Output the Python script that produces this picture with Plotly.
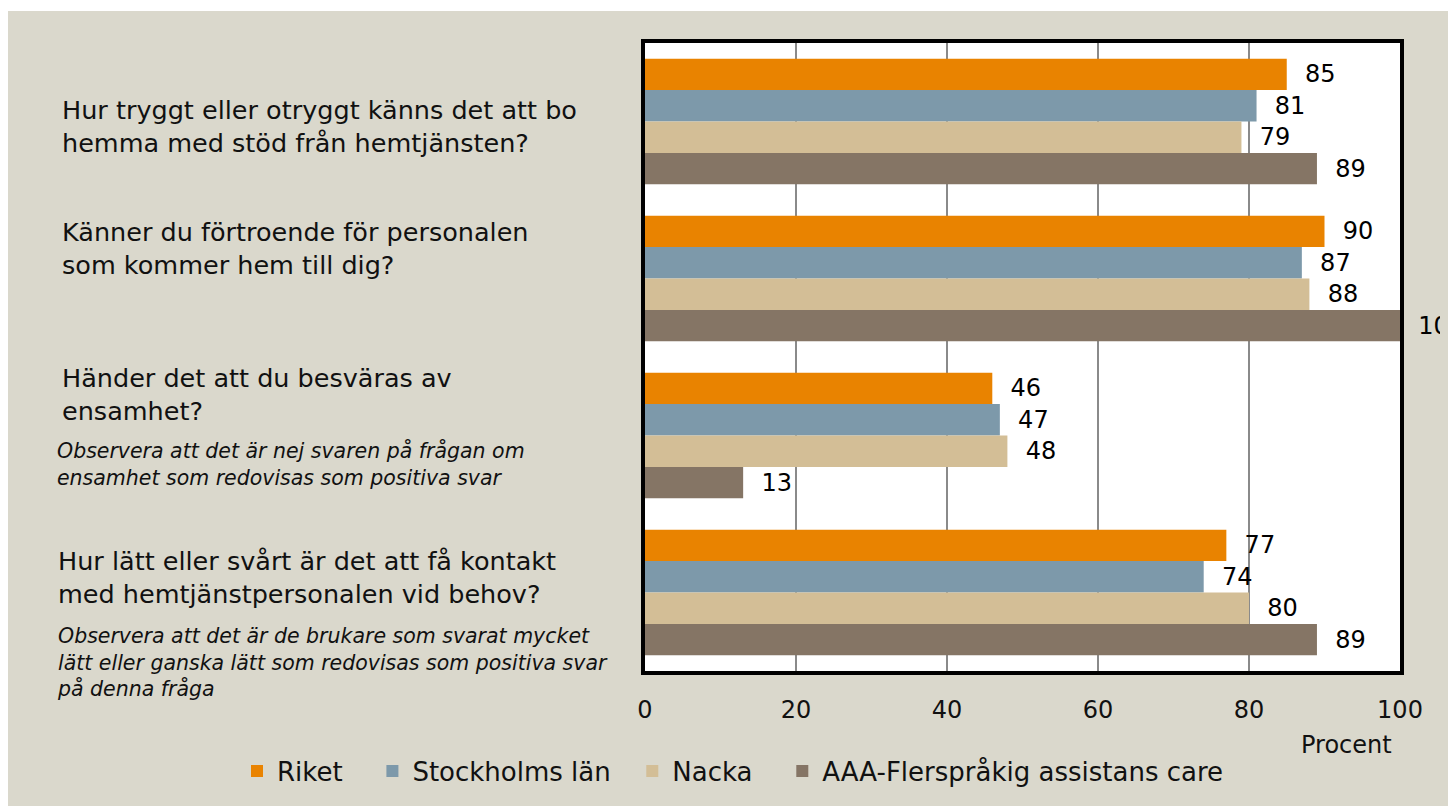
import plotly.graph_objects as go

categories = ["Q1", "Q2", "Q3", "Q4"]
series_names = ["Riket", "Stockholms län", "Nacka", "AAA-Flerspråkig assistans care"]
riket = [85, 90, 46, 77]
stockholm = [81, 87, 47, 74]
nacka = [79, 88, 48, 80]
aaa = [89, 100, 13, 89]
colors = ["#E98300", "#7D99AA", "#D3BE96", "#857565"]

questions = [
    "Hur tryggt eller otryggt känns det att bo<br>hemma med stöd från hemtjänsten?",
    "Känner du förtroende för personalen<br>som kommer hem till dig?",
    "Händer det att du besväras av<br>ensamhet?",
    "Hur lätt eller svårt är det att få kontakt<br>med hemtjänstpersonalen vid behov?",
]
notes = {
    "Q3": "Observera att det är nej svaren på frågan om<br>ensamhet som redovisas som positiva svar",
    "Q4": "Observera att det är de brukare som svarat mycket<br>lätt eller ganska lätt som redovisas som positiva svar<br>på denna fråga",
}
tick_vals = [0, 20, 40, 60, 80, 100]
legend_pad = [3, 2, 3, 0]  # trailing spacing after legend labels

FONT = "DejaVu Sans"
BG = "#DAD8CC"
OFF = 8  # browser body margin
W, H = 1448 - OFF, 806 - OFF
L, T = 645 - OFF, 43 - OFF
PR, PB = 1400 - OFF, 671 - OFF
R, B = W - PR, H - PB
PW, PH = PR - L, PB - T


def px_x(p):
    # screen pixel -> paper
    return (p - OFF - L) / PW


def px_y(p):
    return (PB - (p - OFF)) / PH


fig = go.Figure()
for name, vals, col, pad in zip(series_names, [riket, stockholm, nacka, aaa], colors, legend_pad):
    fig.add_trace(go.Bar(
        y=categories, x=vals, name=name + "\u00a0" * pad, orientation="h",
        marker=dict(color=col, line=dict(width=0)),
        text=vals, texttemplate="\u00a0\u00a0%{x}", textposition="outside",
        textfont=dict(family=FONT, size=24, color="black"),
        cliponaxis=False, constraintext="none",
    ))

# question labels
q_shift = [-5, 30, 41, 15]
q_x = [60, 60, 60, 56]
for cat, q, ys, xx in zip(categories, questions, q_shift, q_x):
    fig.add_annotation(x=px_x(xx), xref="paper", y=cat, yref="y", yshift=ys,
                       text=q, showarrow=False, xanchor="left", yanchor="middle",
                       align="left", font=dict(family=FONT, size=25.5, color="#111"))
note_shift = {"Q3": -28, "Q4": -70}
for cat, t in notes.items():
    fig.add_annotation(x=px_x(55), xref="paper", y=cat, yref="y", yshift=note_shift[cat],
                       text="<i>" + t + "</i>", showarrow=False, xanchor="left",
                       yanchor="middle", align="left",
                       font=dict(family=FONT, size=20.5, color="#111"))

fig.add_annotation(x=px_x(1394), xref="paper", y=px_y(745), yref="paper",
                   text="Procent", showarrow=False, xanchor="right", yanchor="middle",
                   font=dict(family=FONT, size=24, color="#111"))

# thin white strip at top (reference shows slightly more white above)
fig.add_shape(type="rect", xref="paper", yref="paper", x0=px_x(0), x1=px_x(W + 20),
              y0=px_y(11), y1=px_y(0), fillcolor="white", line=dict(width=0), layer="below")

fig.update_layout(
    width=W, height=H,
    margin=dict(l=L, r=R, t=T, b=B),
    paper_bgcolor=BG, plot_bgcolor="white",
    barmode="group", bargap=0.2, bargroupgap=0,
    font=dict(family=FONT, size=24, color="#111"),
    showlegend=True,
    legend=dict(orientation="h", x=px_x(237), xanchor="left", y=px_y(771), yanchor="middle",
                font=dict(family=FONT, size=26, color="#111"), bgcolor="rgba(0,0,0,0)",
                traceorder="normal"),
    xaxis=dict(range=[0, 100], tickvals=tick_vals, showgrid=True, gridcolor="#8A8A8A",
               gridwidth=1.5, zeroline=False, showline=True, linecolor="black",
               linewidth=4, mirror=True, ticks="", ticklabelstandoff=14,
               tickfont=dict(family=FONT, size=24, color="#111"), fixedrange=True),
    yaxis=dict(autorange="reversed", showticklabels=False, showgrid=False,
               zeroline=False, showline=True, linecolor="black", linewidth=4,
               mirror=True, ticks=""),
)

page_js = (
    "document.body.style.overflow='hidden';"
    "document.documentElement.style.background="
    "'linear-gradient(to bottom, white 11px, rgba(255,255,255,0) 11px),"
    " linear-gradient(to right, white 8px, " + BG + " 8px)';"
)
fig.write_html("out.html", post_script=page_js)
